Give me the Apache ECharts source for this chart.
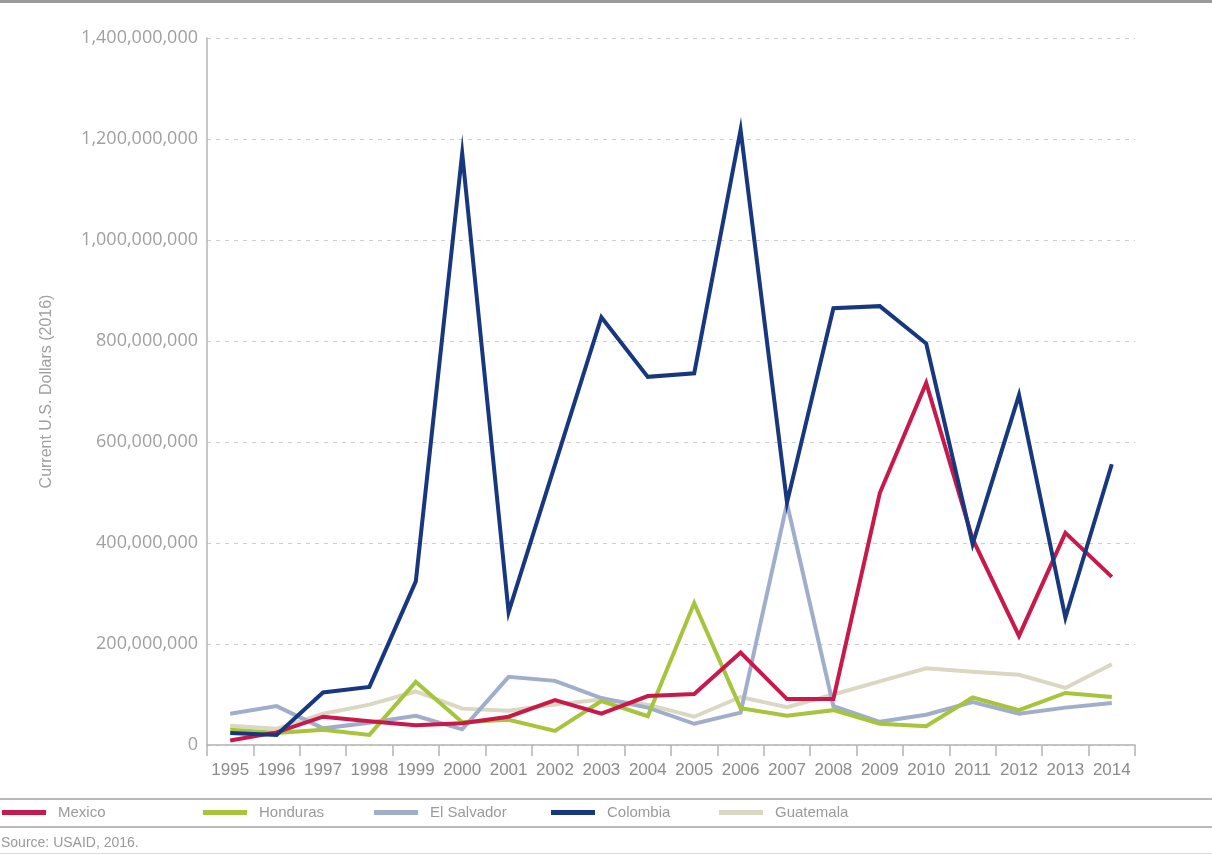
<!DOCTYPE html>
<html>
<head>
<meta charset="utf-8">
<script src="https://cdn.jsdelivr.net/npm/echarts@6/dist/echarts.min.js"></script>
<style>
  html, body { margin: 0; padding: 0; background: #fff; }
  #chart { width: 1212px; height: 855px; }
</style>
</head>
<body>
<div id="chart"></div>
<script>
// Annual assistance by country, current U.S. dollars (2016)
const years = ['1995','1996','1997','1998','1999','2000','2001','2002','2003','2004',
               '2005','2006','2007','2008','2009','2010','2011','2012','2013','2014'];

const M = 1e6;
const mexico     = [9, 25, 56, 47, 39, 43, 56, 89, 62, 97, 101, 183, 91, 91, 499, 717, 408, 216, 420, 333];
const honduras   = [30, 24, 30, 20, 125, 45, 50, 28, 87, 57, 281, 73, 58, 69, 42, 37, 94, 69, 103, 95];
const elSalvador = [62, 77, 33, 44, 58, 31, 135, 127, 93, 74, 42, 64, 478, 77, 46, 60, 85, 62, 74, 83];
const colombia   = [24, 20, 104, 115, 324, 1172, 263, 555, 847, 729, 736, 1218, 480, 865, 869, 795, 398, 693, 252, 556];
const guatemala  = [38, 32, 62, 80, 106, 72, 68, 80, 90, 80, 56, 95, 75, 100, 126, 152, 145, 139, 113, 160];

const yTicks = { min: 0, max: 1400000000, step: 200000000 };

const countries = [
  { name: 'Mexico',      data: mexico,     color: '#c8194b', z: 4, legendX: 2 },
  { name: 'Honduras',    data: honduras,   color: '#a6c43c', z: 3, legendX: 203 },
  { name: 'El Salvador', data: elSalvador, color: '#a0aecb', z: 2, legendX: 374 },
  { name: 'Colombia',    data: colombia,   color: '#17387e', z: 5, legendX: 551 },
  { name: 'Guatemala',   data: guatemala,  color: '#dad8c2', z: 1, legendX: 719 }
];

const sans = '"Liberation Sans", Arial, sans-serif';

const chart = echarts.init(document.getElementById('chart'), null, { renderer: 'canvas' });

const option = {
  backgroundColor: '#ffffff',
  animation: false,
  grid: { left: 207, right: 77, top: 38, bottom: 110, containLabel: false },
  xAxis: {
    type: 'category',
    data: years,
    boundaryGap: true,
    axisLine: { show: true, lineStyle: { color: '#b4b4b4', width: 1.5 } },
    axisTick: { show: true, alignWithLabel: false, length: 11, lineStyle: { color: '#b4b4b4', width: 1.5 } },
    axisLabel: { color: '#8c8c8c', fontFamily: sans, fontSize: 17, margin: 17, interval: 0 },
    splitLine: { show: false }
  },
  yAxis: {
    type: 'value',
    min: yTicks.min,
    max: yTicks.max,
    interval: yTicks.step,
    name: 'Current U.S. Dollars (2016)',
    nameLocation: 'middle',
    nameGap: 152,
    nameRotate: 90,
    nameTextStyle: { color: '#a0a0a0', fontFamily: sans, fontSize: 16 },
    axisLine: { show: true, lineStyle: { color: '#b4b4b4', width: 1.5 } },
    axisTick: { show: false },
    axisLabel: {
      color: '#a0a0a0',
      fontFamily: '"Open Sans", sans-serif',
      fontSize: 18,
      margin: 9,
      formatter: v => v.toLocaleString('en-US')
    },
    splitLine: { show: true, lineStyle: { color: '#cdcdcd', width: 1.2, type: [4, 5] } }
  },
  legend: countries.map(c => ({
    data: [c.name],
    left: c.legendX,
    top: 805,
    padding: 0,
    icon: 'rect',
    itemWidth: 44,
    itemHeight: 5,
    itemGap: 0,
    textStyle: { color: '#9a9a9a', fontFamily: sans, fontSize: 15, padding: [0, 0, 0, 7] },
    selectedMode: false
  })),
  graphic: [
    { type: 'rect', left: 0, top: 0, shape: { width: 1212, height: 3 }, style: { fill: '#9a9a9a' } },
    { type: 'rect', left: 0, top: 798, shape: { width: 1212, height: 2 }, style: { fill: '#b9b9b9' } },
    { type: 'rect', left: 0, top: 826, shape: { width: 1212, height: 2 }, style: { fill: '#b9b9b9' } },
    { type: 'rect', left: 0, top: 853, shape: { width: 1212, height: 1 }, style: { fill: '#dddddd' } },
    {
      type: 'text', left: 1, top: 836,
      style: { text: 'Source: USAID, 2016.', fill: '#9a9a9a', font: '14px ' + sans }
    }
  ],
  series: countries.map(c => ({
    name: c.name,
    type: 'line',
    data: c.data.map(v => v * M),
    z: c.z,
    symbol: 'none',
    smooth: false,
    color: c.color,
    lineStyle: { color: c.color, width: 4, join: 'miter' },
    itemStyle: { color: c.color },
    emphasis: { disabled: true }
  }))
};

chart.setOption(option);
</script>
</body>
</html>
